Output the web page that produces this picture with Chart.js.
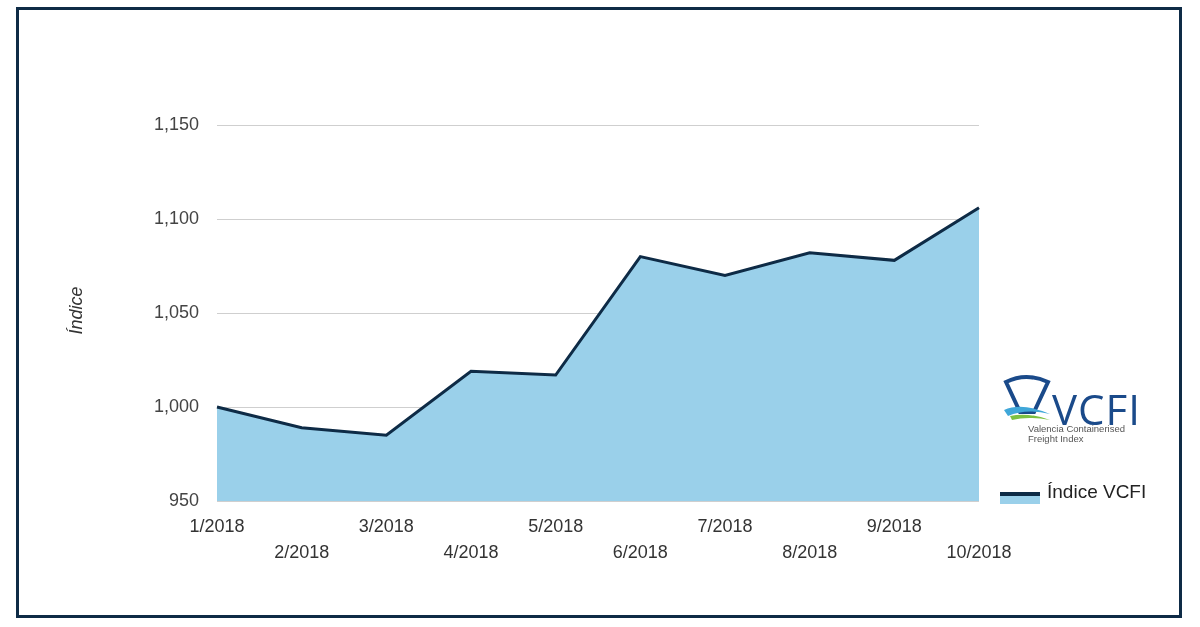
<!DOCTYPE html>
<html>
<head>
<meta charset="utf-8">
<script src="https://cdn.jsdelivr.net/npm/chart.js@4"></script>
<style>
  body { margin: 0; background: #fff; font-family: 'Liberation Sans', Arial, sans-serif; }
  #wrap { position: relative; width: 1200px; height: 627px; }
  #frame { position: absolute; left: 16px; top: 7px; width: 1160px; height: 605px; border: 3px solid #0e2b46; }
  canvas { position: absolute; left: 0; top: 0; }
  #ytitle { position: absolute; left: 52px; top: 300px; transform: rotate(-90deg); font-style: italic; font-size: 18px; color: #333; }
  #logo { position: absolute; left: 1002px; top: 372px; width: 160px; }
  #logo .big { position: absolute; left: 50px; top: 8px; font-size: 42px; color: #1a4a8a; letter-spacing: 1px; font-family: 'Open Sans', sans-serif; }
  #logo .small { position: absolute; left: 26px; top: 52px; font-size: 9.5px; line-height: 10px; color: #555; }
  #legend { position: absolute; left: 1000px; top: 481px; font-size: 19px; color: #222; }
  #legend .sw { position: absolute; left: 0; top: 11px; width: 40px; height: 14px; }
  #legend .sw .l { height: 4px; background: #0e2b46; }
  #legend .sw .f { height: 8px; background: #9ad0ea; }
  #legend span { position: absolute; left: 47px; top: 0; white-space: nowrap; }
</style>
</head>
<body>
<div id="wrap">
  <canvas id="c" width="1200" height="627"></canvas>
  <div id="frame"></div>
  <div id="ytitle">Índice</div>
  <div id="logo">
    <svg width="52" height="50" style="position:absolute;left:0;top:2px">
      <path d="M4 8 Q24 -2 46 8 L32 38 L18 38 Z" fill="none" stroke="#1a4a8a" stroke-width="4"/>
      <path d="M2 36 Q20 28 48 40 Q24 34 6 42 Z" fill="#3fa7d9"/>
      <path d="M8 42 Q26 38 48 46 Q26 42 10 46 Z" fill="#7cc142"/>
    </svg>
    <div class="big">VCFI</div>
    <div class="small">Valencia Containerised<br>Freight Index</div>
  </div>
  <div id="legend"><div class="sw"><div class="l"></div><div class="f"></div></div><span>Índice VCFI</span></div>
</div>
<script>
const months = ['1/2018', '2/2018', '3/2018', '4/2018', '5/2018', '6/2018', '7/2018', '8/2018', '9/2018', '10/2018'];
const vcfi = [1000, 989, 985, 1019, 1017, 1080, 1070, 1082, 1078, 1106];
const yTicks = [950, 1000, 1050, 1100, 1150];

new Chart(document.getElementById('c'), {
  type: 'line',
  data: {
    labels: months.map((m, i) => i % 2 === 0 ? [m] : ['', m]),
    datasets: [{
      data: vcfi,
      borderColor: '#0e2b46',
      backgroundColor: '#9ad0ea',
      borderWidth: 3,
      fill: 'start',
      tension: 0,
      pointRadius: 0
    }]
  },
  options: {
    responsive: false,
    animation: false,
    layout: { padding: { top: 125, right: 221, left: 0, bottom: 0 } },
    plugins: { legend: { display: false }, tooltip: { enabled: false } },
    scales: {
      x: {
        offset: false,
        grid: { display: false },
        border: { display: false },
        afterFit: s => { s.height = 126; },
        ticks: { color: '#333', font: { family: 'Liberation Sans', size: 18, lineHeight: 1.45 }, maxRotation: 0, autoSkip: false, padding: 5 }
      },
      y: {
        min: 950, max: 1150,
        afterFit: s => { s.width = 217; },
        afterBuildTicks: s => { s.ticks = yTicks.map(v => ({ value: v })); },
        grid: { color: '#cfcfcf', drawTicks: false },
        border: { display: false },
        ticks: { color: '#444', font: { family: 'Liberation Sans', size: 18 }, padding: 18,
          callback: v => v.toLocaleString('en-US') }
      }
    }
  }
});
</script>
</body>
</html>
